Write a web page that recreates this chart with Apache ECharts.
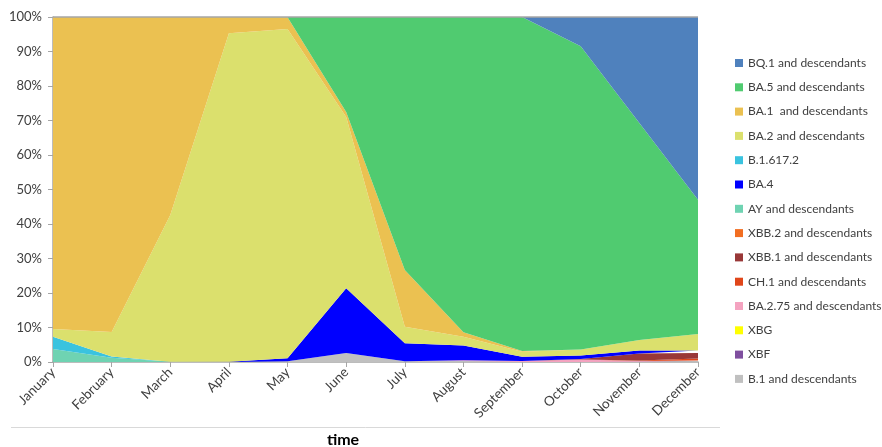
<!DOCTYPE html>
<html>
<head>
<meta charset="utf-8">
<script src="https://cdn.jsdelivr.net/npm/echarts@6/dist/echarts.min.js"></script>
<style>
html,body{margin:0;padding:0;background:#fff;}
#chart{width:882px;height:447px;}
</style>
</head>
<body>
<div id="chart"></div>
<script>
var months = ['January','February','March','April','May','June','July','August','September','October','November','December'];
var yTicks = ['0%','10%','20%','30%','40%','50%','60%','70%','80%','90%','100%'];

// stacked from bottom to top
var B1      = [0,   0,   0,   0,   0.2, 2.6, 0.2, 0.3, 0,    0,    0,    0];
var XBF     = [0,   0,   0,   0,   0,   0,   0,   0,   0,    0,    0.1,  0.1];
var XBG     = [0,   0,   0,   0,   0,   0,   0,   0,   0,    0,    0,    0.1];
var BA275   = [0,   0,   0,   0,   0,   0,   0,   0.2, 0.3,  0.7,  0.2,  0.2];
var CH1     = [0,   0,   0,   0,   0,   0,   0,   0,   0,    0,    0.1,  0.6];
var XBB1    = [0,   0,   0,   0,   0,   0,   0,   0,   0,    0.2,  2.1,  1.6];
var XBB2    = [0,   0,   0,   0,   0,   0,   0,   0,   0,    0,    0,    0.3];
var AY      = [3.8, 1.2, 0.1, 0,   0,   0,   0,   0,   0,    0,    0,    0];
var BA4     = [0,   0,   0,   0.1, 0.9, 18.8,5.2, 4.3, 1.2,  1.0,  0.8,  0.4];
var B16172  = [3.5, 0.4, 0,   0,   0,   0,   0,   0,   0,    0,    0,    0];
var BA2     = [2.3, 7.1, 42.5,95.2,95.4,49.6,4.8, 2.5, 1.5,  1.7,  3.1,  4.8];
var BA1     = [90.4,91.3,57.4,4.7, 3.4, 1.5, 16.5,1.3, 0.2,  0,    0,    0];
var BA5     = [0,   0,   0,   0,   0.1, 27.5,73.3,91.4,96.8, 87.9, 62.9, 38.9];
var BQ1     = [0,   0,   0,   0,   0,   0,   0,   0,   0,    8.5,  30.7, 53.0];

var seriesDefs = [
  ['B.1 and descendants', B1, '#c0c0c0'],
  ['XBF', XBF, '#7f4f9f'],
  ['XBG', XBG, '#ffff00'],
  ['BA.2.75 and descendants', BA275, '#f4a3c0'],
  ['CH.1 and descendants', CH1, '#e0461a'],
  ['XBB.1 and descendants', XBB1, '#993838'],
  ['XBB.2 and descendants', XBB2, '#f26e21'],
  ['AY and descendants', AY, '#6fd3b2'],
  ['BA.4', BA4, '#0000ff'],
  ['B.1.617.2', B16172, '#3ac3df'],
  ['BA.2 and descendants', BA2, '#dbe06d'],
  ['BA.1  and descendants', BA1, '#ebc151'],
  ['BA.5 and descendants', BA5, '#50cb70'],
  ['BQ.1 and descendants', BQ1, '#4f81bd']
];

var series = seriesDefs.map(function (d, i) {
  var s = {
    name: d[0], type: 'line', stack: 'total', data: d[1],
    symbol: 'none', lineStyle: {width: 0}, itemStyle: {color: d[2]},
    areaStyle: {color: d[2], opacity: 1}, silent: true, z: 2
  };
  if (i === seriesDefs.length - 1) {
    s.markLine = {silent: true, symbol: 'none', label: {show: false},
      lineStyle: {color: '#a6a6a6', type: 'solid', width: 1.5},
      data: [{yAxis: 100}]};
  }
  return s;
});

var legendOrder = seriesDefs.map(function (d) { return d[0]; }).reverse();

var chart = echarts.init(document.getElementById('chart'), null, {renderer: 'canvas'});
chart.setOption({
  animation: false,
  backgroundColor: '#fff',
  textStyle: {fontFamily: 'Lato'},
  title: {text: 'time', left: 338, top: 427, textAlign: 'center',
    textStyle: {fontFamily: 'Lato', fontSize: 16, fontWeight: 'bold', color: '#000'}},
  grid: {left: 53, right: 184, top: 17, bottom: 85, containLabel: false},
  legend: {
    orient: 'vertical', left: 730, top: 51, data: legendOrder,
    icon: 'rect', itemWidth: 8, itemHeight: 8, itemGap: 10.3,
    textStyle: {fontFamily: 'Lato', fontSize: 12, color: '#404040', lineHeight: 14},
    selectedMode: false
  },
  xAxis: {
    type: 'category', data: months, boundaryGap: false,
    axisLine: {lineStyle: {color: '#a6a6a6', width: 1.5}},
    axisTick: {show: true, length: 5, alignWithLabel: true, lineStyle: {color: '#a6a6a6'}},
    axisLabel: {rotate: 45, fontSize: 13.5, color: '#404040', margin: 8, fontFamily: 'Lato'},
    splitLine: {show: false}
  },
  yAxis: {
    type: 'value', min: 0, max: 100, interval: 10,
    axisLine: {show: true, lineStyle: {color: '#a6a6a6', width: 1.5}},
    axisTick: {show: true, length: 5, lineStyle: {color: '#a6a6a6'}},
    axisLabel: {fontSize: 13, color: '#404040', margin: 11, fontFamily: 'Lato',
      formatter: function (v) { return yTicks[Math.round(v / 10)]; }},
    splitLine: {show: false}
  },
  graphic: [{type: 'line', shape: {x1: 11, y1: 427.5, x2: 720, y2: 427.5},
    style: {stroke: '#d9d9d9', lineWidth: 1}, silent: true}],
  series: series
});
</script>
</body>
</html>
